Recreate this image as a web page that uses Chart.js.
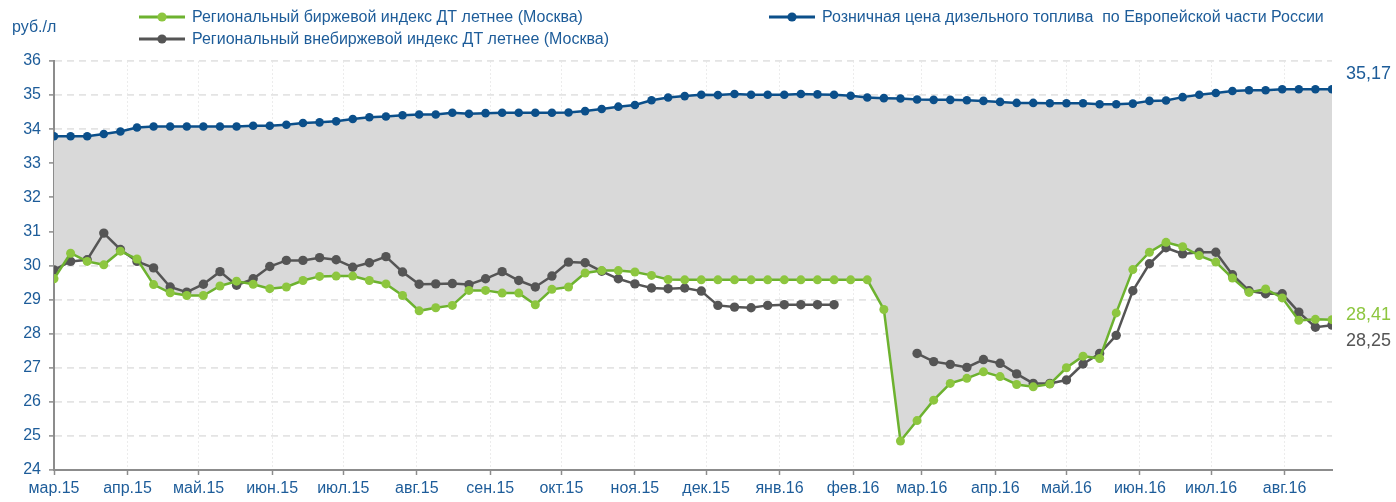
<!DOCTYPE html>
<html lang="ru">
<head>
<meta charset="utf-8">
<title>Цены на дизельное топливо</title>
<script src="https://cdn.jsdelivr.net/npm/chart.js@4.4.1/dist/chart.umd.min.js"></script>
<style>
  html, body { margin: 0; padding: 0; background: #ffffff; }
  #wrap { position: relative; width: 1396px; height: 502px; }
</style>
</head>
<body>
<div id="wrap"><canvas id="chart" width="1396" height="502"></canvas></div>
<script>
// Weekly observations starting 1 March 2015
const firstWeek = '2015-03-01';

const monthLabels = ['мар.15', 'апр.15', 'май.15', 'июн.15', 'июл.15', 'авг.15', 'сен.15', 'окт.15', 'ноя.15',
  'дек.15', 'янв.16', 'фев.16', 'мар.16', 'апр.16', 'май.16', 'июн.16', 'июл.16', 'авг.16'];
const monthStarts = ['2015-03-01', '2015-04-01', '2015-05-01', '2015-06-01', '2015-07-01', '2015-08-01',
  '2015-09-01', '2015-10-01', '2015-11-01', '2015-12-01', '2016-01-01', '2016-02-01', '2016-03-01',
  '2016-04-01', '2016-05-01', '2016-06-01', '2016-07-01', '2016-08-01'];

// Розничная цена ДТ по Европейской части России, руб./л
const retailPrice = [
  33.79, 33.79, 33.79, 33.86, 33.93, 34.05, 34.08, 34.08, 34.08, 34.08,
  34.08, 34.08, 34.10, 34.10, 34.13, 34.18, 34.20, 34.23, 34.30, 34.35,
  34.37, 34.41, 34.43, 34.43, 34.48, 34.45, 34.47, 34.48, 34.48, 34.48,
  34.48, 34.49, 34.53, 34.59, 34.66, 34.71, 34.85, 34.93, 34.97, 35.01,
  35.00, 35.03, 35.01, 35.01, 35.01, 35.03, 35.02, 35.01, 34.98, 34.93,
  34.91, 34.90, 34.87, 34.86, 34.86, 34.85, 34.83, 34.80, 34.77, 34.77,
  34.76, 34.76, 34.76, 34.73, 34.73, 34.75, 34.83, 34.84, 34.94, 35.01,
  35.06, 35.12, 35.14, 35.14, 35.17, 35.17, 35.17, 35.17
];

// Региональный биржевой индекс ДТ летнее (Москва)
const exchangeIndex = [
  29.61, 30.36, 30.12, 30.02, 30.42, 30.19, 29.44, 29.20, 29.12, 29.12,
  29.40, 29.54, 29.45, 29.32, 29.37, 29.56, 29.68, 29.69, 29.69, 29.56,
  29.46, 29.12, 28.67, 28.76, 28.83, 29.27, 29.27, 29.19, 29.19, 28.85,
  29.30, 29.37, 29.78, 29.85, 29.85, 29.81, 29.71, 29.59, 29.58, 29.58,
  29.58, 29.58, 29.58, 29.58, 29.58, 29.58, 29.58, 29.58, 29.58, 29.58,
  28.71, 24.85, 25.45, 26.05, 26.54, 26.69, 26.88, 26.74, 26.51, 26.44,
  26.52, 27.00, 27.34, 27.27, 28.61, 29.88, 30.39, 30.68, 30.55, 30.29,
  30.10, 29.63, 29.21, 29.31, 29.05, 28.39, 28.42, 28.41
];

// Региональный внебиржевой индекс ДТ летнее (Москва); null — нет котировок
const otcIndex = [
  29.87, 30.12, 30.17, 30.95, 30.47, 30.12, 29.93, 29.37, 29.22, 29.45,
  29.82, 29.42, 29.61, 29.97, 30.15, 30.15, 30.23, 30.17, 29.95, 30.08,
  30.26, 29.81, 29.45, 29.46, 29.47, 29.44, 29.61, 29.82, 29.56, 29.37,
  29.69, 30.10, 30.08, 29.83, 29.61, 29.46, 29.34, 29.32, 29.34, 29.25,
  28.83, 28.78, 28.76, 28.83, 28.85, 28.85, 28.85, 28.85, null, null,
  null, null, 27.42, 27.18, 27.10, 27.01, 27.24, 27.13, 26.82, 26.54,
  26.54, 26.64, 27.11, 27.42, 27.95, 29.26, 30.05, 30.52, 30.34, 30.39,
  30.39, 29.73, 29.26, 29.17, 29.17, 28.63, 28.19, 28.25
];

const seriesNames = [
  'Розничная цена дизельного топлива  по Европейской части России',
  'Региональный биржевой индекс ДТ летнее (Москва)',
  'Региональный внебиржевой индекс ДТ летнее (Москва)'
];
const unitLabel = 'руб./л';

const BLUE = '#0b4f8a';
const GREEN_LINE = '#6db22f';
const GREEN_DOT = '#8dc63f';
const GREY = '#555555';
const TEXT_BLUE = '#1d5c99';
const FONT = '"Liberation Sans", Arial, sans-serif';

// day offsets from the first week (x axis is linear in days)
const DAY = 86400000;
const t0 = Date.parse(firstWeek + 'T00:00:00Z');
const dayOf = s => Math.round((Date.parse(s + 'T00:00:00Z') - t0) / DAY);
const weekDays = retailPrice.map((_, i) => i * 7);
const monthDays = monthStarts.map(dayOf);
const toPoints = arr => arr.map((v, i) => ({ x: weekDays[i], y: v }));

const fmt = v => v.toFixed(2).replace('.', ',');

// legend, unit caption and closing-value labels
const annotations = {
  id: 'annotations',
  afterDraw(chart) {
    const ctx = chart.ctx;
    ctx.save();
    ctx.textBaseline = 'middle';

    const legendItem = (x, y, line, dot, text) => {
      ctx.strokeStyle = line;
      ctx.lineWidth = 3;
      ctx.beginPath();
      ctx.moveTo(x, y);
      ctx.lineTo(x + 46, y);
      ctx.stroke();
      ctx.fillStyle = dot;
      ctx.beginPath();
      ctx.arc(x + 23, y, 4.6, 0, Math.PI * 2);
      ctx.fill();
      ctx.fillStyle = TEXT_BLUE;
      ctx.font = '16px ' + FONT;
      ctx.textAlign = 'left';
      ctx.fillText(text, x + 53, y + 1);
    };
    legendItem(139, 17, GREEN_LINE, GREEN_DOT, seriesNames[1]);
    legendItem(139, 39, GREY, GREY, seriesNames[2]);
    legendItem(769, 17, BLUE, BLUE, seriesNames[0]);

    ctx.fillStyle = TEXT_BLUE;
    ctx.font = '16px ' + FONT;
    ctx.textAlign = 'left';
    ctx.fillText(unitLabel, 12, 28);

    // closing values next to the last points
    ctx.font = '18px ' + FONT;
    const last = retailPrice.length - 1;
    const endLabel = (dsIndex, value, color, dy) => {
      const pt = chart.getDatasetMeta(dsIndex).data[last];
      ctx.fillStyle = color;
      ctx.fillText(fmt(value), pt.x + 14, pt.y + dy);
    };
    endLabel(0, retailPrice[last], TEXT_BLUE, -15);
    endLabel(1, exchangeIndex[last], GREEN_DOT, -5);
    endLabel(2, otcIndex[last], GREY, 16);
    ctx.restore();
  }
};

new Chart(document.getElementById('chart'), {
  type: 'line',
  data: {
    datasets: [
      {
        label: seriesNames[0],
        data: toPoints(retailPrice),
        borderColor: BLUE,
        backgroundColor: '#d9d9d9',
        pointBackgroundColor: BLUE,
        borderWidth: 2.5,
        pointRadius: 4.3,
        pointBorderWidth: 0,
        fill: { target: 1 },
        tension: 0
      },
      {
        label: seriesNames[1],
        data: toPoints(exchangeIndex),
        borderColor: GREEN_LINE,
        pointBackgroundColor: GREEN_DOT,
        borderWidth: 2.5,
        pointRadius: 4.5,
        pointBorderWidth: 0,
        fill: false,
        tension: 0
      },
      {
        label: seriesNames[2],
        data: toPoints(otcIndex),
        borderColor: GREY,
        pointBackgroundColor: GREY,
        borderWidth: 2.5,
        pointRadius: 4.7,
        pointBorderWidth: 0,
        fill: false,
        spanGaps: false,
        tension: 0
      }
    ]
  },
  options: {
    responsive: false,
    animation: false,
    events: [],
    layout: { padding: { top: 61, right: 64, left: 0, bottom: 0 } },
    plugins: {
      legend: { display: false },
      tooltip: { enabled: false },
      filler: { drawTime: 'beforeDatasetsDraw' }
    },
    scales: {
      x: {
        type: 'linear',
        min: 0,
        max: weekDays[weekDays.length - 1],
        afterBuildTicks: scale => { scale.ticks = monthDays.map(v => ({ value: v })); },
        afterFit: scale => { scale.height = 32; },
        ticks: {
          autoSkip: false,
          maxRotation: 0,
          padding: 4,
          color: TEXT_BLUE,
          font: { family: FONT, size: 16 },
          callback: value => monthLabels[monthDays.indexOf(value)]
        },
        grid: {
          color: '#ececec',
          lineWidth: 1,
          tickColor: '#8c8c8c',
          tickLength: 5,
          tickWidth: 1.5
        },
        border: { display: true, color: '#8c8c8c', width: 2, dash: [2, 2] }
      },
      y: {
        min: 24,
        max: 36,
        afterFit: scale => { scale.width = 54; },
        ticks: {
          stepSize: 1,
          padding: 8,
          color: TEXT_BLUE,
          font: { family: FONT, size: 16 }
        },
        grid: {
          color: '#e4e4e4',
          lineWidth: 1.8,
          tickColor: '#8c8c8c',
          tickLength: 5,
          tickWidth: 1.5
        },
        border: { display: true, color: '#8c8c8c', width: 2, dash: [7, 5] }
      }
    }
  },
  plugins: [annotations]
});
</script>
</body>
</html>
